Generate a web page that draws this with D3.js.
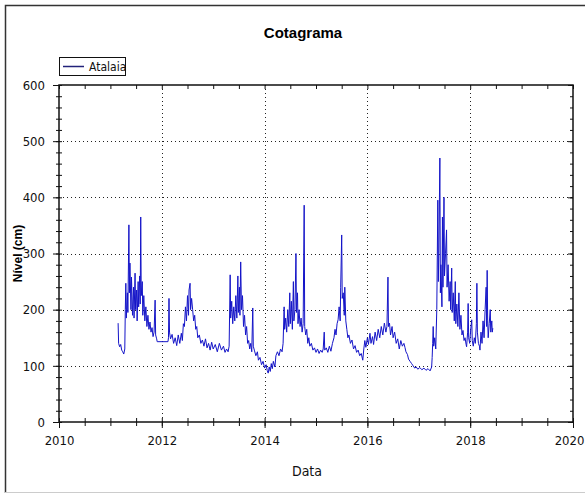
<!DOCTYPE html>
<html>
<head>
<meta charset="utf-8">
<script src="https://cdn.jsdelivr.net/npm/d3@7/dist/d3.min.js"></script>
<style>
  body { margin: 0; background: #fff; }
  text { font-family: "DejaVu Sans Condensed", "Liberation Sans Narrow", "Arial Narrow", sans-serif; font-stretch: condensed; }
</style>
</head>
<body>
<div id="container"></div>
<script>
/* CONSTANTS AND GLOBALS */
const width = 585,
  height = 495,
  margin = { top: 85, bottom: 73, left: 59, right: 12 };

const titulo = "Cotagrama";
const serieNome = "Atalaia";
const xTicks = [2010, 2012, 2014, 2016, 2018, 2020];
const yTicks = [0, 100, 200, 300, 400, 500, 600];

// datas em anos decimais
const anos = [
  2011.15, 2011.16, 2011.18, 2011.20, 2011.22, 2011.24, 2011.26, 2011.28, 2011.29, 2011.30,
  2011.31, 2011.33, 2011.34, 2011.36, 2011.37, 2011.38, 2011.40, 2011.41, 2011.43, 2011.45,
  2011.46, 2011.48, 2011.49, 2011.51, 2011.52, 2011.54, 2011.55, 2011.57, 2011.58, 2011.59,
  2011.60, 2011.62, 2011.63, 2011.65, 2011.67, 2011.69, 2011.71, 2011.73, 2011.75, 2011.77,
  2011.79, 2011.81, 2011.83, 2011.85, 2011.87, 2011.88, 2011.90, 2011.91, 2012.12, 2012.13,
  2012.14, 2012.15, 2012.17, 2012.20, 2012.23, 2012.26, 2012.29, 2012.32, 2012.35, 2012.38,
  2012.40, 2012.42, 2012.44, 2012.46, 2012.48, 2012.50, 2012.52, 2012.53, 2012.55, 2012.56,
  2012.58, 2012.60, 2012.62, 2012.64, 2012.66, 2012.68, 2012.70, 2012.73, 2012.76, 2012.79,
  2012.82, 2012.85, 2012.88, 2012.91, 2012.94, 2012.97, 2013.00, 2013.04, 2013.08, 2013.12,
  2013.16, 2013.20, 2013.23, 2013.26, 2013.29, 2013.31, 2013.33, 2013.34, 2013.36, 2013.38,
  2013.40, 2013.42, 2013.44, 2013.46, 2013.48, 2013.49, 2013.51, 2013.52, 2013.535, 2013.55,
  2013.57, 2013.59, 2013.61, 2013.63, 2013.65, 2013.67, 2013.69, 2013.71, 2013.73, 2013.75,
  2013.77, 2013.78, 2013.80, 2013.83, 2013.86, 2013.88, 2013.91, 2013.94, 2013.97, 2014.00,
  2014.03, 2014.05, 2014.07, 2014.09, 2014.11, 2014.13, 2014.15, 2014.17, 2014.20, 2014.22,
  2014.25, 2014.28, 2014.31, 2014.34, 2014.36, 2014.38, 2014.39, 2014.41, 2014.43, 2014.45,
  2014.47, 2014.49, 2014.50, 2014.52, 2014.54, 2014.56, 2014.57, 2014.59, 2014.61, 2014.62,
  2014.64, 2014.65, 2014.67, 2014.69, 2014.71, 2014.73, 2014.75, 2014.77, 2014.78, 2014.80,
  2014.82, 2014.84, 2014.86, 2014.88, 2014.91, 2014.94, 2014.97, 2015.00, 2015.03, 2015.06,
  2015.09, 2015.12, 2015.14, 2015.16, 2015.17, 2015.20, 2015.23, 2015.26, 2015.29, 2015.32,
  2015.35, 2015.37, 2015.39, 2015.41, 2015.43, 2015.45, 2015.47, 2015.48, 2015.50, 2015.51,
  2015.53, 2015.55, 2015.56, 2015.58, 2015.60, 2015.62, 2015.64, 2015.67, 2015.70, 2015.73,
  2015.76, 2015.79, 2015.82, 2015.85, 2015.88, 2015.91, 2015.93, 2015.95, 2015.97, 2016.00,
  2016.02, 2016.05, 2016.07, 2016.10, 2016.12, 2016.15, 2016.18, 2016.21, 2016.24, 2016.27,
  2016.30, 2016.33, 2016.36, 2016.38, 2016.40, 2016.41, 2016.43, 2016.45, 2016.48, 2016.50,
  2016.53, 2016.56, 2016.59, 2016.62, 2016.65, 2016.68, 2016.71, 2016.73, 2016.75, 2016.78,
  2016.80, 2016.83, 2016.86, 2016.89, 2016.92, 2016.95, 2016.98, 2017.02, 2017.06, 2017.10,
  2017.14, 2017.18, 2017.22, 2017.25, 2017.26, 2017.27, 2017.28, 2017.29, 2017.31, 2017.33,
  2017.35, 2017.37, 2017.38, 2017.39, 2017.41, 2017.42, 2017.43, 2017.45, 2017.46, 2017.47,
  2017.49, 2017.50, 2017.52, 2017.54, 2017.55, 2017.57, 2017.59, 2017.61, 2017.62, 2017.64,
  2017.65, 2017.67, 2017.69, 2017.71, 2017.72, 2017.74, 2017.76, 2017.78, 2017.80, 2017.82,
  2017.84, 2017.86, 2017.88, 2017.90, 2017.92, 2017.93, 2017.95, 2017.96, 2017.97, 2017.99,
  2018.01, 2018.03, 2018.04, 2018.06, 2018.08, 2018.10, 2018.12, 2018.13, 2018.14, 2018.16,
  2018.18, 2018.19, 2018.21, 2018.23, 2018.25, 2018.27, 2018.29, 2018.31, 2018.32, 2018.33,
  2018.34, 2018.35, 2018.37, 2018.39, 2018.40, 2018.42, 2018.43, 2018.44
];

// nível em cm
const nivel = [
  176, 140, 134, 138, 128, 125, 121, 130, 200, 247,
  185, 230, 195, 351, 230, 283, 200, 258, 190, 240,
  185, 265, 200, 235, 180, 250, 205, 260, 210, 365,
  225, 250, 190, 225, 180, 205, 170, 190, 165, 178,
  160, 168, 152, 160, 217, 155, 148, 143, 143, 150,
  220, 160, 148, 156, 140, 150, 136, 155, 140, 158,
  145, 175, 170, 205, 180, 225, 190, 235, 247, 200,
  220, 200, 180, 190, 165, 170, 150, 155, 140, 146,
  135, 148, 132, 140, 128, 142, 130, 138, 125, 140,
  128, 135, 124, 130, 125, 135, 262, 185, 215, 175,
  205, 180, 225, 185, 260, 195, 240, 190, 285, 200,
  225, 170, 190, 155, 170, 140, 145, 130, 140, 125,
  203, 135, 128, 118, 125, 110, 115, 102, 108, 96,
  102, 92, 87, 98, 90, 104, 95, 108, 98, 118,
  125, 118, 130, 125, 140, 205, 165, 185, 160, 200,
  170, 230, 175, 215, 165, 250, 180, 200, 300, 195,
  230, 175, 200, 170, 185, 160, 175, 386, 170, 155,
  165, 140, 150, 135, 140, 128, 132, 124, 130, 122,
  128, 124, 130, 160, 128, 132, 124, 135, 126, 140,
  150, 165, 155, 175, 182, 205, 180, 240, 333, 220,
  230, 190, 240, 180, 165, 150, 155, 140, 146, 130,
  136, 124, 128, 118, 122, 110, 130, 145, 133, 150,
  138, 158, 140, 152, 138, 160, 145, 165, 150, 170,
  155, 176, 160, 170, 258, 170, 176, 155, 170, 150,
  160, 140, 148, 130, 145, 135, 140, 133, 125, 120,
  112, 108, 104, 100, 96, 98, 94, 97, 93, 96,
  92, 95, 91, 98, 115, 140, 170, 135, 150, 130,
  200, 395, 250, 300, 470, 230, 280, 205, 365, 240,
  400, 260, 300, 342, 240, 280, 215, 250, 200, 274,
  195, 230, 180, 250, 175, 210, 170, 230, 165, 190,
  155, 163, 145, 150, 138, 134, 160, 211, 150, 140,
  165, 182, 145, 135, 150, 140, 175, 247, 160, 140,
  135, 128, 160, 140, 180, 150, 200, 240, 170, 270,
  180, 150, 175, 200, 160, 180, 160, 167
];

const data = anos.map((a, i) => ({ ano: a, nivel: nivel[i] }));

/* SVG */
const svg = d3.select("#container")
  .append("svg")
  .attr("width", width)
  .attr("height", height)
  .style("display", "block");

// moldura externa
svg.append("path")
  .attr("d", `M${width},5.5 H5.5 V493`)
  .attr("fill", "none")
  .attr("stroke", "#333")
  .attr("stroke-width", 1.5);
svg.append("line")
  .attr("x1", 5).attr("x2", width)
  .attr("y1", 492.5).attr("y2", 492.5)
  .attr("stroke", "#ccc");

/* SCALES */
const xScale = d3.scaleLinear()
  .domain([2010, 2020])
  .range([margin.left, width - margin.right]);

const yScale = d3.scaleLinear()
  .domain([0, 600])
  .range([height - margin.bottom, margin.top]);

const x0 = xScale.range()[0], x1 = xScale.range()[1];
const y0 = yScale.range()[0], y1 = yScale.range()[1];

const xMinor = d3.range(2010, 2020.01, 0.5);
const yMinor = d3.range(0, 600.01, 20);

/* GRID */
const grid = svg.append("g")
  .attr("stroke", "#222")
  .attr("stroke-width", 1)
  .attr("stroke-dasharray", "1,3");

grid.selectAll(".gx")
  .data(xTicks.slice(1, -1))
  .join("line")
  .attr("x1", d => Math.round(xScale(d)) + 0.5)
  .attr("x2", d => Math.round(xScale(d)) + 0.5)
  .attr("y1", y0).attr("y2", y1);

grid.selectAll(".gy")
  .data(yTicks.slice(1, -1))
  .join("line")
  .attr("y1", d => Math.round(yScale(d)) + 0.5)
  .attr("y2", d => Math.round(yScale(d)) + 0.5)
  .attr("x1", x0).attr("x2", x1);

/* LINE */
const line = d3.line()
  .x(d => xScale(d.ano))
  .y(d => yScale(d.nivel));

svg.append("path")
  .datum(data)
  .attr("fill", "none")
  .attr("stroke", "#1414c8")
  .attr("stroke-width", 1)
  .attr("stroke-linejoin", "round")
  .attr("d", line);

/* AXES */
const tickStyle = g => {
  g.selectAll("line").attr("stroke", "#111");
  g.select(".domain").remove();
};

// ticks menores (cruzando o eixo)
svg.append("g").attr("transform", `translate(0,${y0})`)
  .call(d3.axisBottom(xScale).tickValues(xMinor).tickSize(4).tickFormat(""))
  .call(tickStyle);
svg.append("g").attr("transform", `translate(0,${y0})`)
  .call(d3.axisTop(xScale).tickValues(xMinor).tickSize(4).tickFormat(""))
  .call(tickStyle);
svg.append("g").attr("transform", `translate(0,${y1})`)
  .call(d3.axisBottom(xScale).tickValues(xMinor).tickSize(4).tickFormat(""))
  .call(tickStyle);

svg.append("g").attr("transform", `translate(${x0},0)`)
  .call(d3.axisLeft(yScale).tickValues(yMinor).tickSize(3).tickFormat(""))
  .call(tickStyle);
svg.append("g").attr("transform", `translate(${x0},0)`)
  .call(d3.axisRight(yScale).tickValues(yMinor).tickSize(3).tickFormat(""))
  .call(tickStyle);
svg.append("g").attr("transform", `translate(${x1},0)`)
  .call(d3.axisLeft(yScale).tickValues(yMinor).tickSize(3).tickFormat(""))
  .call(tickStyle);

// ticks principais com rótulos
svg.append("g")
  .attr("class", "x-axis")
  .attr("transform", `translate(0,${y0})`)
  .call(d3.axisBottom(xScale).tickValues(xTicks).tickSize(6).tickPadding(8).tickFormat(d3.format("d")))
  .call(g => g.selectAll("text").attr("font-size", 13).attr("fill", "#111")
    .attr("dx", d => d === 2020 ? -4 : 0))
  .call(tickStyle);

svg.append("g")
  .attr("class", "y-axis")
  .attr("transform", `translate(${x0},0)`)
  .call(d3.axisLeft(yScale).tickValues(yTicks).tickSize(6).tickPadding(8))
  .call(g => g.selectAll("text").attr("font-size", 13).attr("fill", "#111"))
  .call(tickStyle);

svg.append("g")
  .attr("transform", `translate(${x1},0)`)
  .call(d3.axisLeft(yScale).tickValues(yTicks).tickSize(5).tickFormat(""))
  .call(tickStyle);

// caixa do gráfico
svg.append("rect")
  .attr("x", x0).attr("y", y1)
  .attr("width", x1 - x0).attr("height", y0 - y1)
  .attr("fill", "none")
  .attr("stroke", "#111")
  .attr("stroke-width", 1.5);

/* TEXTS */
svg.append("text")
  .attr("x", 303).attr("y", 38)
  .attr("text-anchor", "middle")
  .attr("font-size", 15)
  .attr("font-weight", "bold")
  .style("font-family", "Liberation Sans, Arial, sans-serif")
  .text(titulo);

svg.append("text")
  .attr("x", 307).attr("y", 476)
  .attr("text-anchor", "middle")
  .attr("font-size", 14)
  .attr("fill", "#111")
  .text("Data");

svg.append("text")
  .attr("transform", `translate(22,${(y0 + y1) / 2}) rotate(-90)`)
  .attr("text-anchor", "middle")
  .attr("font-size", 12)
  .attr("font-weight", "bold")
  .style("font-family", "Liberation Sans, Arial, sans-serif")
  .text("Nível (cm)");

/* LEGEND */
const legend = svg.append("g").attr("transform", `translate(${x0},57)`);
legend.append("rect")
  .attr("x", 0.5).attr("y", 0.5)
  .attr("width", 66).attr("height", 18)
  .attr("fill", "#fff")
  .attr("stroke", "#111");
legend.append("line")
  .attr("x1", 4).attr("x2", 25)
  .attr("y1", 9.5).attr("y2", 9.5)
  .attr("stroke", "#22227a")
  .attr("stroke-width", 1.5);
legend.append("text")
  .attr("x", 30).attr("y", 14)
  .attr("font-size", 12)
  .attr("fill", "#111")
  .text(serieNome);
</script>
</body>
</html>
